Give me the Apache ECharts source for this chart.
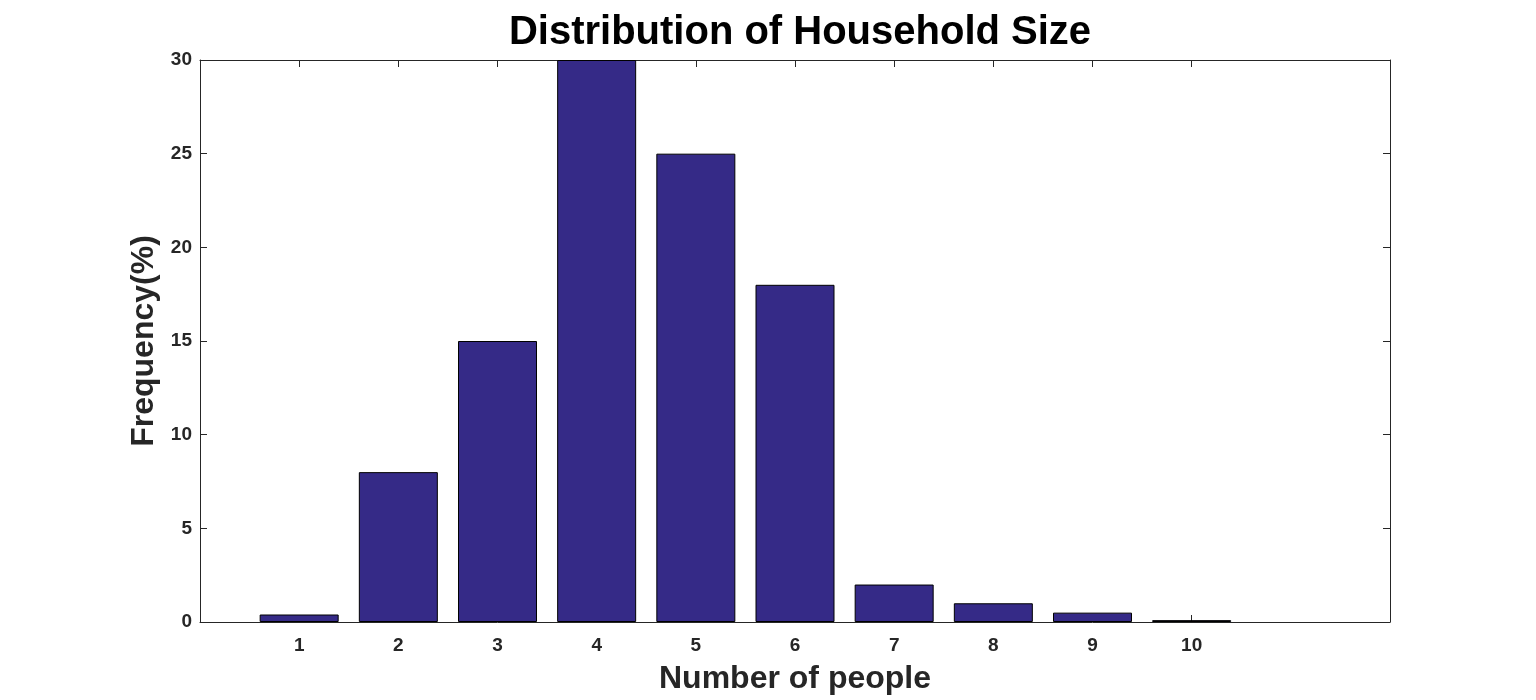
<!DOCTYPE html>
<html>
<head>
<meta charset="utf-8">
<script src="https://cdn.jsdelivr.net/npm/echarts@6/dist/echarts.min.js"></script>
<style>html,body{margin:0;padding:0;background:#fff}#c{width:1536px;height:700px}</style>
</head>
<body>
<div id="c"></div>
<script>
const categories = [1, 2, 3, 4, 5, 6, 7, 8, 9, 10];
const frequency = [0.4, 8, 15, 30, 25, 18, 2, 1, 0.5, 0.1];
const yTicks = [0, 5, 10, 15, 20, 25, 30];

const font = '"Liberation Sans", Arial, Helvetica, sans-serif';
const axisColor = '#262626';
const chart = echarts.init(document.getElementById('c'));

const xCommon = {
  type: 'value', min: 0, max: 12, interval: 1,
  splitLine: { show: false },
  axisLine: { show: true, onZero: false, lineStyle: { color: axisColor, width: 1 } },
  axisTick: { show: true, inside: true, length: 7, customValues: categories, lineStyle: { color: axisColor } }
};
const yCommon = {
  type: 'value', min: 0, max: 30, interval: 5,
  splitLine: { show: false },
  axisLine: { show: true, onZero: false, lineStyle: { color: axisColor, width: 1 } },
  axisTick: { show: true, inside: true, length: 7, lineStyle: { color: axisColor } }
};

chart.setOption({
  animation: false,
  backgroundColor: '#ffffff',
  title: {
    text: 'Distribution of Household Size',
    left: 795, textAlign: 'center', top: 8,
    textStyle: { fontFamily: font, fontWeight: 'bold', fontSize: 40, color: '#000' }
  },
  grid: { left: 200, right: 146, top: 60, bottom: 77, containLabel: false },
  xAxis: [
    Object.assign({}, xCommon, {
      position: 'bottom',
      name: 'Number of people', nameLocation: 'middle', nameGap: 41,
      nameTextStyle: { fontFamily: font, fontWeight: 'bold', fontSize: 32, color: axisColor },
      axisLabel: { show: true, customValues: categories, margin: 14,
        fontFamily: font, fontWeight: 'bold', fontSize: 19, color: axisColor }
    }),
    Object.assign({}, xCommon, { position: 'top', axisLabel: { show: false } })
  ],
  yAxis: [
    Object.assign({}, yCommon, {
      position: 'left',
      name: 'Frequency(%)', nameLocation: 'middle', nameGap: 34, nameRotate: 90,
      nameTextStyle: { fontFamily: font, fontWeight: 'bold', fontSize: 32, color: axisColor },
      axisLabel: { show: true, margin: 8, customValues: yTicks, padding: [6, 0, 0, 0],
        fontFamily: font, fontWeight: 'bold', fontSize: 19, color: axisColor }
    }),
    Object.assign({}, yCommon, { position: 'right', axisLabel: { show: false } })
  ],
  series: [{
    type: 'bar',
    xAxisIndex: 0, yAxisIndex: 0,
    barWidth: 79,
    data: categories.map((c, i) => [c, frequency[i]]),
    itemStyle: { color: '#352a87', borderColor: '#000', borderWidth: 1 },
    z: 1
  }]
});
</script>
</body>
</html>
